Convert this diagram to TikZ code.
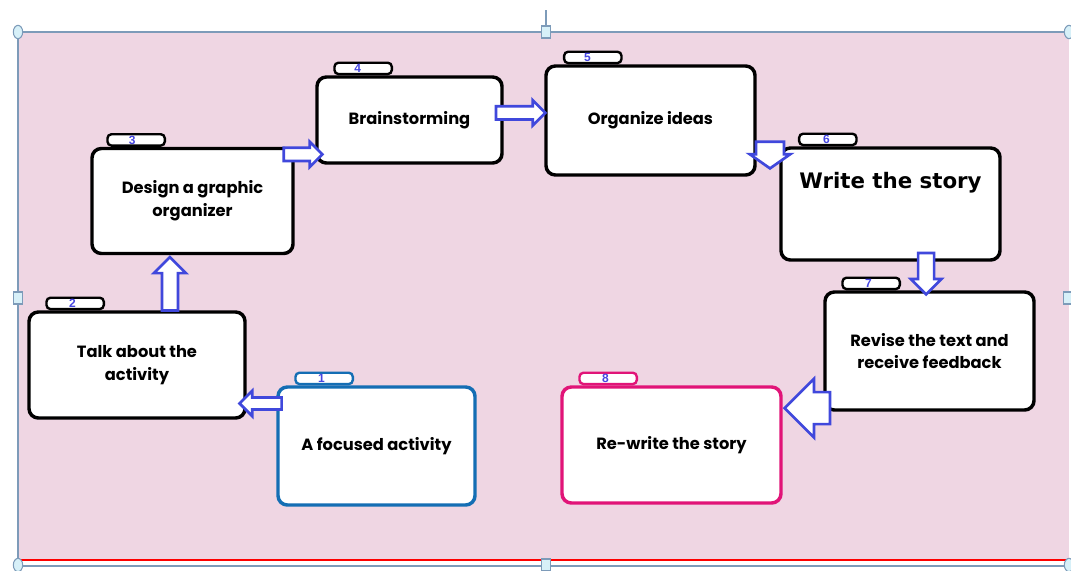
\documentclass[tikz,border=0pt]{standalone}
\usepackage{fontspec}
\setmainfont{Poppins}
\newfontfamily\numfont{Liberation Sans}
\newfontfamily\blackfont{DejaVu Sans}
\usetikzlibrary{shapes.arrows, shapes.geometric, calc, positioning}

\definecolor{pagepink}{RGB}{239,214,227}
\definecolor{framegray}{RGB}{125,155,185}
\definecolor{handlefill}{RGB}{215,240,248}
\definecolor{arrowblue}{RGB}{64,72,220}
\definecolor{numblue}{RGB}{70,70,225}
\definecolor{focusblue}{RGB}{20,110,180}
\definecolor{rewritepink}{RGB}{225,20,120}

\begin{document}
\begin{tikzpicture}[x=0.75pt, y=-0.75pt,
  stepbox/.style={rectangle, draw, line width=2.6pt, fill=white, rounded corners=7pt, align=center, font=\bfseries\fontsize{12.2}{17}\selectfont},
  tabbox/.style={rectangle, draw, line width=1.8pt, fill=white, rounded corners=3pt, anchor=south west, minimum width=43pt, minimum height=8.5pt, inner sep=0pt, font=\numfont\bfseries\fontsize{9}{9}\selectfont, text=numblue},
  barrow/.style={single arrow, draw=arrowblue, fill=white, line width=2pt, inner xsep=0pt, anchor=tip, minimum width=#1},
  varrow/.style={barrow=#1, inner ysep=0pt},
  rhandle/.style={ellipse, draw=framegray, fill=handlefill, line width=0.8pt, minimum width=7pt, minimum height=10pt, inner sep=0pt},
  shandle/.style={rectangle, draw=framegray, fill=handlefill, line width=0.8pt, minimum width=7pt, minimum height=9pt, inner sep=0pt}]
  \useasboundingbox (0,0) rectangle (1071,571);

  % page and selection frame
  \fill [pagepink] (18,32) rectangle (1069,559);
  \draw [framegray, line width=1.2pt] (546,10) -- (546,32);
  \draw [framegray, line width=1.2pt] (18,565) -- (18,32) -- (1069,32);
  \draw [red, line width=1.5pt] (18,560) -- (1069,560);
  \draw [framegray, line width=1.2pt] (18,566) -- (1069,566);
  \node [rhandle] (h1) at (18,32) {};
  \node [rhandle] (h2) at (1069,32) {};
  \node [rhandle] (h3) at (18,565) {};
  \node [rhandle] (h4) at (1069,565) {};
  \node [shandle] (h5) at (546,32) {};
  \node [shandle] (h6) at (546,565) {};
  \node [shandle] (h7) at (18,298) {};
  \node [shandle] (h8) at (1068,298) {};

  % the eight steps
  \node [stepbox, draw=focusblue, minimum width=147.75pt, minimum height=88.5pt] (b1) at (376.5,446) {A focused activity};
  \node [stepbox, minimum width=162pt, minimum height=79.5pt] (b2) at (137,365) {Talk about the\\activity};
  \node [stepbox, minimum width=150.75pt, minimum height=78.75pt] (b3) at (192.5,201) {Design a graphic\\organizer};
  \node [stepbox, minimum width=138.75pt, minimum height=64.5pt] (b4) at (409.5,120) {Brainstorming};
  \node [stepbox, minimum width=156.75pt, minimum height=81.75pt] (b5) at (650.5,120.5) {Organize ideas};
  \node [stepbox, minimum width=164.25pt, minimum height=84pt,
    label={[anchor=center, yshift=-27pt, font=\blackfont\bfseries\fontsize{16}{18}\selectfont]north:Write the story}] (b6) at (890.5,204) {};
  \node [stepbox, minimum width=156.75pt, minimum height=88.5pt] (b7) at (929.5,351) {Revise the text and\\receive feedback};
  \node [stepbox, draw=rewritepink, minimum width=164.25pt, minimum height=87pt] (b8) at (671.5,445) {Re-write the story};

  % number tabs
  \node [tabbox, draw=focusblue] (n1) at ([xshift=13.5pt]b1.north west) {\hspace*{-4pt}1};
  \node [tabbox] (n2) at ([xshift=13.5pt]b2.north west) {\hspace*{-4pt}2};
  \node [tabbox] (n3) at ([xshift=12pt]b3.north west) {\hspace*{-6pt}3};
  \node [tabbox] (n4) at ([xshift=13.5pt]b4.north west) {\hspace*{-8pt}4};
  \node [tabbox] (n5) at ([xshift=14pt]b5.north west) {\hspace*{-8pt}5};
  \node [tabbox] (n6) at ([xshift=14pt]b6.north west) {\hspace*{-2pt}6};
  \node [tabbox] (n7) at ([xshift=13.5pt]b7.north west) {\hspace*{-4pt}7};
  \node [tabbox, draw=rewritepink] (n8) at ([xshift=13.5pt]b8.north west) {\hspace*{-4pt}8};

  % hollow arrows between the steps
  \coordinate (p12) at ($(b1.north west)!0.15!(b1.south west)$);
  \path (p12) -- (p12 -| b2.east) node [pos=1, xshift=-6.75pt, barrow=17pt, inner ysep=3.5pt, single arrow head extend=5pt, minimum height=31.5pt, shape border rotate=180] (a12) {};
  \coordinate (p23) at ($(b2.north west)!0.65!(b2.north east)$);
  \path (p23) -- (p23 |- b3.south) node [pos=1, varrow=22.5pt, inner xsep=5pt, single arrow head extend=6pt, minimum height=40pt, shape border rotate=90] (a23) {};
  \coordinate (p34) at ($(b3.north east)!0.07!(b3.south east)$);
  \path (p34) -- (p34 -| b4.west) node [pos=1, xshift=6.75pt, barrow=17pt, inner ysep=4pt, single arrow head extend=4.5pt, minimum height=29pt] (a34) {};
  \coordinate (p45) at ($(b4.north east)!0.42!(b4.south east)$);
  \path (p45) -- (p45 -| b5.west) node [pos=1, xshift=2.25pt, barrow=17pt, inner ysep=4pt, single arrow head extend=4.5pt, minimum height=37pt] (a45) {};
  \path (b5.south east) -- (b6.north west) node [midway, xshift=1.5pt, yshift=-6.4pt, varrow=28.5pt, inner xsep=9.5pt, single arrow head extend=4.75pt, single arrow tip angle=110, minimum height=20pt, shape border rotate=270] (a56) {};
  \coordinate (p67) at ($(b6.south west)!0.66!(b6.south east)$);
  \path (p67) -- (p67 |- b7.north) node [pos=1, yshift=-4.5pt, varrow=21pt, inner xsep=5pt, single arrow head extend=5.5pt, minimum height=31pt, shape border rotate=270] (a67) {};
  \coordinate (p78) at ($(b7.north west)!0.97!(b7.south west)$);
  \path (p78) -- (p78 -| b8.east) node [pos=1, barrow=42pt, inner ysep=11pt, single arrow head extend=10pt, minimum height=34pt, shape border rotate=180] (a78) {};
\end{tikzpicture}
\end{document}
